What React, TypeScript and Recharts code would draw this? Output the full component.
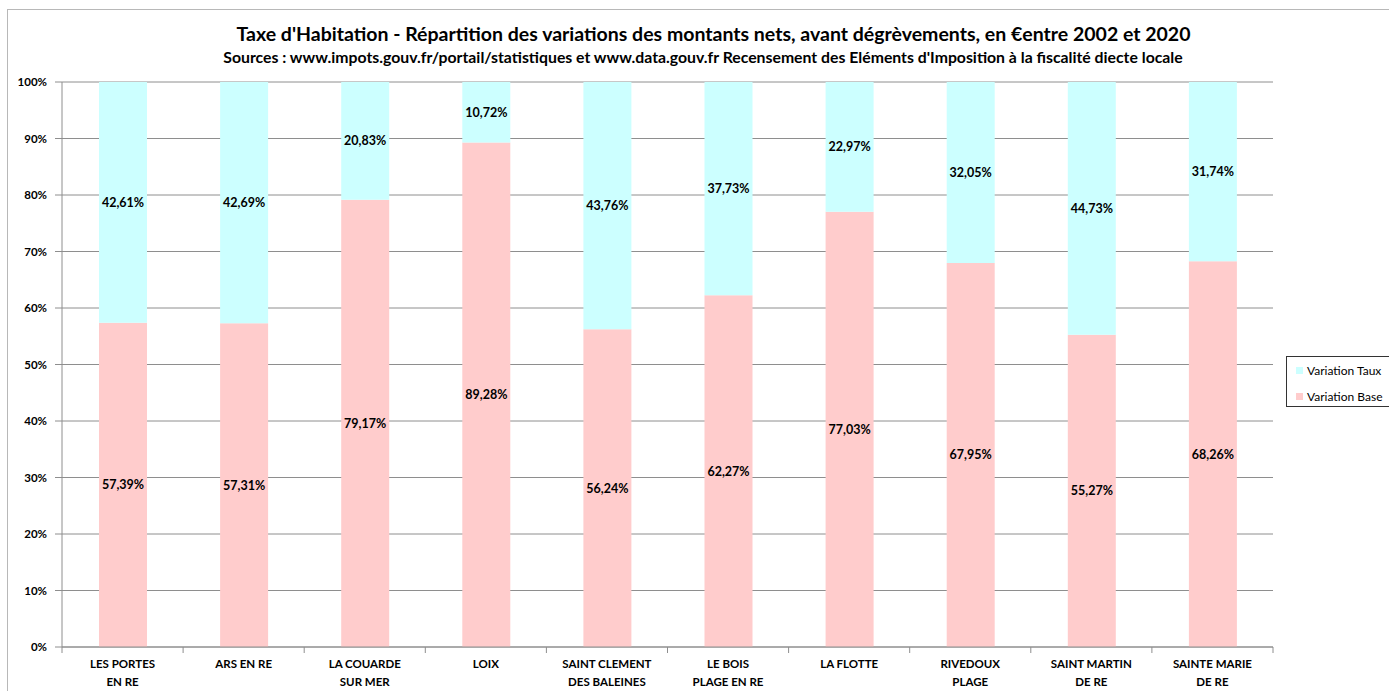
import React from 'react';
import { BarChart, Bar, XAxis, YAxis, CartesianGrid, LabelList } from 'recharts';

const communes = [
    'LES PORTES EN RE', 'ARS EN RE', 'LA COUARDE SUR MER', 'LOIX', 'SAINT CLEMENT DES BALEINES',
    'LE BOIS PLAGE EN RE', 'LA FLOTTE', 'RIVEDOUX PLAGE', 'SAINT MARTIN DE RE', 'SAINTE MARIE DE RE',
];
// two-line labels as in the original axis
const communeLines: string[][] = [
    ['LES PORTES', 'EN RE'], ['ARS EN RE'], ['LA COUARDE', 'SUR MER'], ['LOIX'], ['SAINT CLEMENT', 'DES BALEINES'],
    ['LE BOIS', 'PLAGE EN RE'], ['LA FLOTTE'], ['RIVEDOUX', 'PLAGE'], ['SAINT MARTIN', 'DE RE'], ['SAINTE MARIE', 'DE RE'],
];
const variationBase = [57.39, 57.31, 79.17, 89.28, 56.24, 62.27, 77.03, 67.95, 55.27, 68.26];
const variationTaux = [42.61, 42.69, 20.83, 10.72, 43.76, 37.73, 22.97, 32.05, 44.73, 31.74];
const yTicks = [0, 10, 20, 30, 40, 50, 60, 70, 80, 90, 100];

const chartData = communes.map((name, i) => ({
    name,
    base: variationBase[i],
    taux: variationTaux[i],
}));

const FONT = 'Lato, "Open Sans", sans-serif';
const GRID = '#8e8e8e';
const PLOT_LEFT = 62;
const PLOT_RIGHT = 1273;
const HALF_BAND = (PLOT_RIGHT - PLOT_LEFT) / communes.length / 2;

const pct = (v: any) => `${Number(v).toFixed(2).replace('.', ',')}%`;

const CategoryTick = (props: any) => {
    const { x, y, payload, index } = props;
    const lines = communeLines[index] || [payload.value];
    return (
        <g>
            <line x1={x - HALF_BAND} y1={y - 8} x2={x - HALF_BAND} y2={y - 2} stroke={GRID} />
            {index === communes.length - 1 && (
                <line x1={x + HALF_BAND} y1={y - 8} x2={x + HALF_BAND} y2={y - 2} stroke={GRID} />
            )}
            {lines.map((l, k) => (
                <text key={k} x={x} y={y + 13 + k * 18} textAnchor="middle"
                    fontFamily={FONT} fontSize={11.5} fontWeight={700} fill="#000">
                    {l}
                </text>
            ))}
        </g>
    );
};

const labelStyle = { fontFamily: FONT, fontSize: 12.5, fontWeight: 700, fill: '#000' };

export default function App() {
    return (
        <div style={{ position: 'absolute', left: 0, top: 0, width: 1389, height: 691, background: '#fff', overflow: 'hidden' }}>
            <div style={{
                position: 'absolute', left: 7, top: 9, width: 1400, height: 700,
                borderLeft: '1px solid #b8b8b8', borderTop: '1px solid #b8b8b8',
            }} />
            <div style={{
                position: 'absolute', left: 0, width: 1427, top: 22, textAlign: 'center',
                fontFamily: FONT, fontWeight: 700, fontSize: 19.5, color: '#000', whiteSpace: 'nowrap',
            }}>
                Taxe d'Habitation - Répartition des variations des montants nets, avant dégrèvements, en €entre 2002 et 2020
            </div>
            <div style={{
                position: 'absolute', left: 0, width: 1406, top: 47, textAlign: 'center',
                fontFamily: FONT, fontWeight: 700, fontSize: 15.8, color: '#000', whiteSpace: 'nowrap',
            }}>
                Sources : www.impots.gouv.fr/portail/statistiques et www.data.gouv.fr Recensement des Eléments d'Imposition à la fiscalité diecte locale
            </div>
            <BarChart
                width={1389}
                height={691}
                data={chartData}
                margin={{ top: 82, right: 1389 - PLOT_RIGHT, left: 2, bottom: 0 }}
                style={{ position: 'absolute', left: 0, top: 0 }}
            >
                <CartesianGrid vertical={false} stroke={GRID} strokeWidth={1} />
                <XAxis
                    dataKey="name"
                    interval={0}
                    height={44}
                    stroke={GRID}
                    tickLine={false}
                    tick={<CategoryTick />}
                />
                <YAxis
                    width={60}
                    domain={[0, 100]}
                    ticks={yTicks}
                    stroke={GRID}
                    tickSize={7}
                    tickMargin={8}
                    tickFormatter={(v: number) => `${v}%`}
                    tick={{ fontFamily: FONT, fontSize: 11.5, fontWeight: 700, fill: '#000' }}
                />
                <Bar dataKey="base" stackId="a" fill="#ffcccc" barSize={48} isAnimationActive={false} name="Variation Base">
                    <LabelList dataKey="base" position="center" formatter={pct} style={labelStyle} />
                </Bar>
                <Bar dataKey="taux" stackId="a" fill="#ccffff" barSize={48} isAnimationActive={false} name="Variation Taux">
                    <LabelList dataKey="taux" position="center" formatter={pct} style={labelStyle} />
                </Bar>
            </BarChart>
            <div style={{
                position: 'absolute', left: 1286, top: 356, width: 110, height: 51,
                border: '1px solid #333', background: '#fff', boxSizing: 'border-box',
                fontFamily: FONT, fontSize: 12, color: '#000', padding: '3px 0 0 9px',
            }}>
                <div style={{ display: 'flex', alignItems: 'center', height: 20 }}>
                    <span style={{ width: 7, height: 7, background: '#ccffff', marginRight: 4 }} />Variation Taux
                </div>
                <div style={{ display: 'flex', alignItems: 'center', height: 20, marginTop: 6 }}>
                    <span style={{ width: 7, height: 7, background: '#ffcccc', marginRight: 4 }} />Variation Base
                </div>
            </div>
        </div>
    );
}
